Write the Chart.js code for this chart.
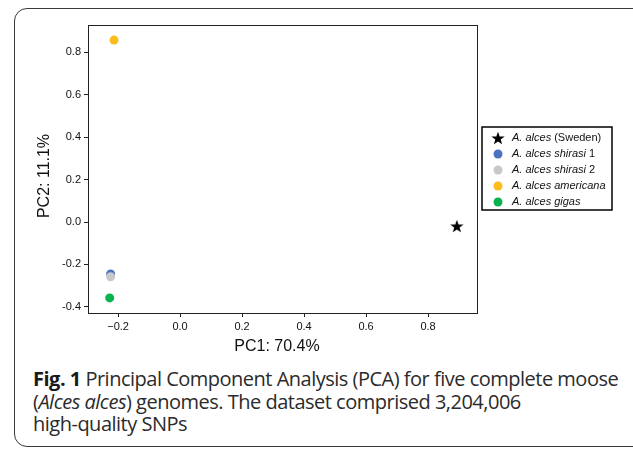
<!DOCTYPE html>
<html>
<head>
<meta charset="utf-8">
<script src="https://cdn.jsdelivr.net/npm/chart.js@4"></script>
<style>
  html, body { margin: 0; padding: 0; background: #fff; }
  body { width: 633px; height: 449px; position: relative; overflow: hidden; }
  #frame {
    position: absolute; left: 14px; top: 8px; width: 700px; height: 437px;
    border: 1.5px solid #3a3a3a; border-radius: 13px;
  }
  #plot { position: absolute; left: 0; top: 0; }
  #caption {
    position: absolute; left: 33px; top: 368px; width: 620px; white-space: nowrap;
    font-family: "Open Sans", Lato, sans-serif; font-size: 20px; line-height: 22.7px;
    color: #2b2b2b; letter-spacing: -0.5px;
  }
  #caption b { font-weight: 700; color: #1a1a1a; }
</style>
</head>
<body>
<div id="frame"></div>
<canvas id="plot" width="633" height="360"></canvas>
<div id="caption"><b>Fig. 1</b> Principal Component Analysis (PCA) for five complete moose<br>(<i>Alces alces</i>) genomes. The dataset comprised 3,204,006<br>high-quality SNPs</div>

<script>
// series
const names = ['A. alces (Sweden)', 'A. alces shirasi 1', 'A. alces shirasi 2', 'A. alces americana', 'A. alces gigas'];
// legend text pieces: [text, italic]
const nameParts = [
  [['A. alces', true], [' (Sweden)', false]],
  [['A. alces shirasi', true], [' 1', false]],
  [['A. alces shirasi', true], [' 2', false]],
  [['A. alces americana', true]],
  [['A. alces gigas', true]]
];
const pc1 = [0.893, -0.224, -0.224, -0.213, -0.227];
const pc2 = [-0.019, -0.245, -0.258, 0.858, -0.358];
const colors = ['#000000', '#4a72c0', '#c8c8c8', '#fbbc1c', '#09b14f'];

const xTicks = [-0.2, 0.0, 0.2, 0.4, 0.6, 0.8];
const xTickLabels = ['\u22120.2', '0.0', '0.2', '0.4', '0.6', '0.8'];
const yTicks = [-0.4, -0.2, 0.0, 0.2, 0.4, 0.6, 0.8];
const yTickLabels = ['-0.4', '-0.2', '0.0', '0.2', '0.4', '0.6', '0.8'];

const xTitle = 'PC1: 70.4%';
const yTitle = 'PC2: 11.1%';

// filled 5-point star used as point style
function makeStar(size, color) {
  const c = document.createElement('canvas');
  c.width = size; c.height = size;
  const g = c.getContext('2d');
  const cx = size / 2, cy = size / 2 + size * 0.05, ro = size / 2, ri = ro * 0.4;
  g.beginPath();
  for (let i = 0; i < 10; i++) {
    const r = i % 2 ? ri : ro;
    const a = -Math.PI / 2 + i * Math.PI / 5;
    g.lineTo(cx + r * Math.cos(a), cy + r * Math.sin(a));
  }
  g.closePath();
  g.fillStyle = color;
  g.fill();
  return c;
}
const star = makeStar(14, '#000');

const tickFont = { family: '"Liberation Sans", Arial, sans-serif', size: 11 };

const datasets = names.map((n, i) => ({
  label: n,
  data: [{ x: pc1[i], y: pc2[i] }],
  pointStyle: i === 0 ? star : 'circle',
  pointRadius: i === 0 ? 7 : 4.5,
  backgroundColor: colors[i],
  borderColor: colors[i],
  borderWidth: 0,
  order: -i
}));

// spines on all four sides, axis titles, legend
const extras = {
  id: 'extras',
  afterDraw(chart) {
    const ctx = chart.ctx;
    const a = chart.chartArea;
    ctx.save();
    ctx.strokeStyle = '#222';
    ctx.lineWidth = 1;
    ctx.strokeRect(Math.round(a.left) + 0.5, Math.round(a.top) + 0.5, Math.round(a.right - a.left), Math.round(a.bottom - a.top));

    // axis titles
    ctx.fillStyle = '#111';
    ctx.font = '16px "Liberation Sans", Arial, sans-serif';
    ctx.textAlign = 'center';
    ctx.textBaseline = 'middle';
    ctx.fillText(xTitle, 277, 347);
    ctx.translate(45, 176);
    ctx.rotate(-Math.PI / 2);
    ctx.fillText(yTitle, 0, 0);
    ctx.setTransform(1, 0, 0, 1, 0, 0);

    // legend
    const bx = 482, by = 127, bw = 130, bh = 83;
    ctx.lineWidth = 1.5;
    ctx.strokeStyle = '#000';
    ctx.strokeRect(bx, by, bw, bh);
    ctx.textAlign = 'left';
    chart.data.datasets.forEach((ds, i) => {
      const y = by + 11 + i * 16;
      if (i === 0) {
        ctx.drawImage(star, 498 - 7, y - 7, 14, 14);
      } else {
        ctx.beginPath();
        ctx.arc(498, y, 4.5, 0, Math.PI * 2);
        ctx.fillStyle = ds.backgroundColor;
        ctx.fill();
      }
      let x = 512;
      ctx.fillStyle = '#111';
      for (const [t, it] of nameParts[i]) {
        ctx.font = (it ? 'italic ' : '') + '11px "Liberation Sans", Arial, sans-serif';
        ctx.fillText(t, x, y);
        x += ctx.measureText(t).width;
      }
    });
    ctx.restore();
  }
};

new Chart(document.getElementById('plot').getContext('2d'), {
  type: 'scatter',
  data: { datasets },
  options: {
    responsive: false, animation: false, devicePixelRatio: 1,
    layout: { padding: { left: 0, top: 25, right: 156, bottom: 0 } },
    plugins: { legend: { display: false }, tooltip: { enabled: false } },
    scales: {
      x: {
        type: 'linear', min: -0.297, max: 0.958,
        afterFit: s => { s.height = 47; },
        afterBuildTicks: s => { s.ticks = xTicks.map(v => ({ value: v })); },
        grid: { drawOnChartArea: false, tickLength: 4, color: '#222', tickColor: '#222' },
        border: { display: true, color: '#222' },
        ticks: { padding: 3, color: '#111', font: tickFont, maxRotation: 0,
                 callback: (v) => xTickLabels[xTicks.findIndex(t => Math.abs(t - v) < 1e-6)] }
      },
      y: {
        type: 'linear', min: -0.429, max: 0.929,
        afterFit: s => { s.width = 88; },
        afterBuildTicks: s => { s.ticks = yTicks.map(v => ({ value: v })); },
        grid: { drawOnChartArea: false, tickLength: 4, color: '#222', tickColor: '#222' },
        border: { display: true, color: '#222' },
        ticks: { padding: 3, color: '#111', font: tickFont,
                 callback: (v) => yTickLabels[yTicks.findIndex(t => Math.abs(t - v) < 1e-6)] }
      }
    }
  },
  plugins: [extras]
});
</script>
</body>
</html>
